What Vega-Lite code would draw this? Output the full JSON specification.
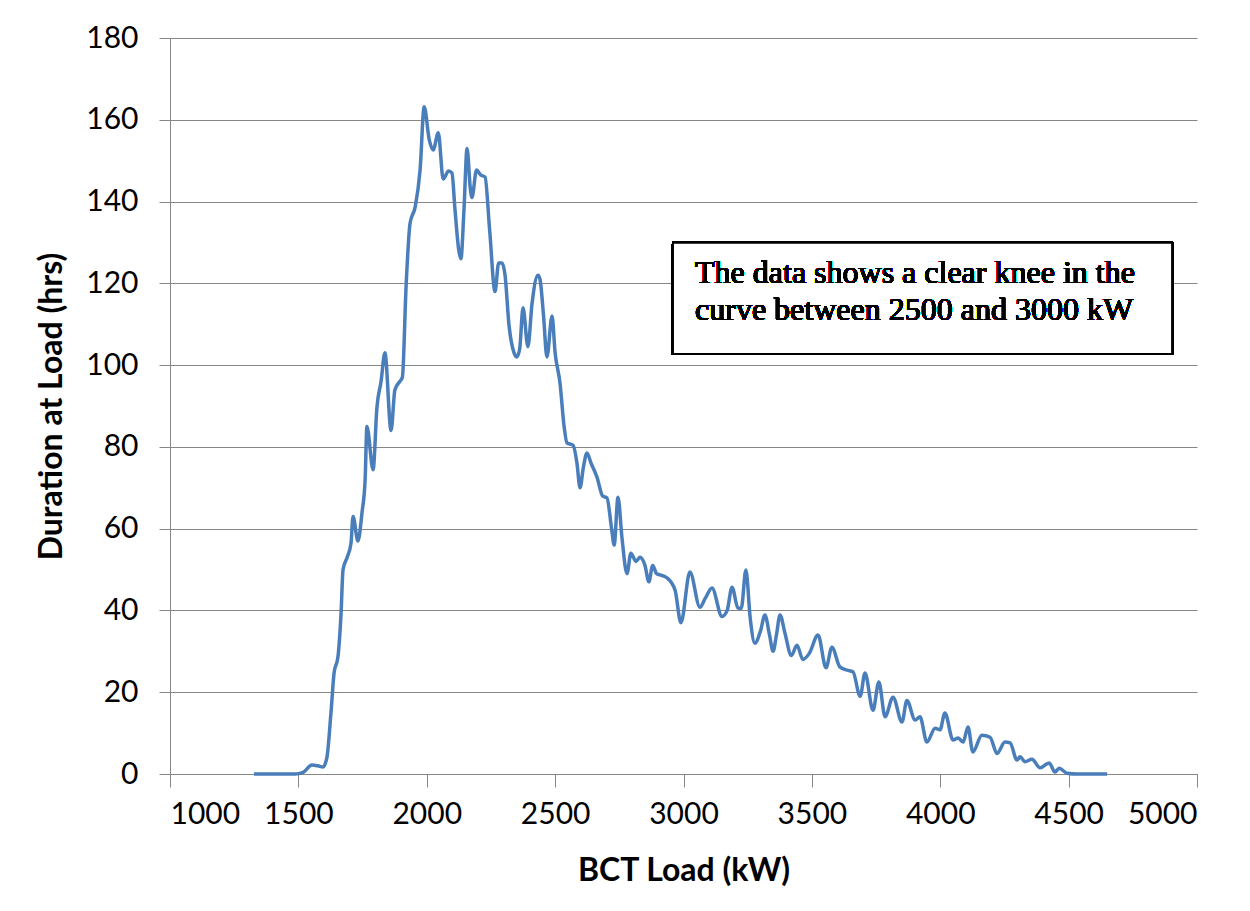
{
  "$schema": "https://vega.github.io/schema/vega-lite/v6.json",
  "width": 1027,
  "height": 736,
  "autosize": {"type": "none"},
  "padding": {"left": 170, "top": 38, "right": 53, "bottom": 137},
  "background": "white",
  "config": {
    "view": {"stroke": null},
    "font": "Lato"
  },
  "data": {
    "values": [
      {"load": 1327, "hours": 0}, {"load": 1487, "hours": 0}, {"load": 1518, "hours": 0.4},
      {"load": 1553, "hours": 2.2}, {"load": 1576, "hours": 2}, {"load": 1596, "hours": 1.7},
      {"load": 1611, "hours": 4}, {"load": 1627, "hours": 15}, {"load": 1639, "hours": 24.7},
      {"load": 1654, "hours": 28.6}, {"load": 1666, "hours": 39}, {"load": 1674, "hours": 50},
      {"load": 1690, "hours": 53}, {"load": 1705, "hours": 56.5}, {"load": 1713, "hours": 63},
      {"load": 1732, "hours": 57}, {"load": 1748, "hours": 64}, {"load": 1760, "hours": 72},
      {"load": 1767, "hours": 85}, {"load": 1791, "hours": 74.4}, {"load": 1806, "hours": 89.7},
      {"load": 1822, "hours": 96}, {"load": 1837, "hours": 103}, {"load": 1861, "hours": 84},
      {"load": 1876, "hours": 94}, {"load": 1895, "hours": 96}, {"load": 1905, "hours": 97},
      {"load": 1920, "hours": 120}, {"load": 1935, "hours": 134.7}, {"load": 1955, "hours": 138.7},
      {"load": 1974, "hours": 147.7}, {"load": 1990, "hours": 163.2}, {"load": 2010, "hours": 155},
      {"load": 2025, "hours": 152.6}, {"load": 2045, "hours": 156.8}, {"load": 2064, "hours": 145.5},
      {"load": 2085, "hours": 147.5}, {"load": 2098, "hours": 147}, {"load": 2110, "hours": 138},
      {"load": 2125, "hours": 128}, {"load": 2133, "hours": 126}, {"load": 2145, "hours": 138},
      {"load": 2157, "hours": 153}, {"load": 2170, "hours": 143}, {"load": 2176, "hours": 141},
      {"load": 2194, "hours": 147.7}, {"load": 2210, "hours": 146.5}, {"load": 2227, "hours": 146},
      {"load": 2245, "hours": 133}, {"load": 2266, "hours": 118}, {"load": 2280, "hours": 125},
      {"load": 2293, "hours": 125}, {"load": 2305, "hours": 122}, {"load": 2320, "hours": 110},
      {"load": 2340, "hours": 103}, {"load": 2351, "hours": 102}, {"load": 2362, "hours": 104},
      {"load": 2375, "hours": 114}, {"load": 2394, "hours": 104.5}, {"load": 2410, "hours": 115},
      {"load": 2433, "hours": 122}, {"load": 2441, "hours": 121}, {"load": 2455, "hours": 112},
      {"load": 2468, "hours": 102}, {"load": 2488, "hours": 112}, {"load": 2500, "hours": 103},
      {"load": 2519, "hours": 95.6}, {"load": 2535, "hours": 85}, {"load": 2546, "hours": 81},
      {"load": 2570, "hours": 80.4}, {"load": 2585, "hours": 76}, {"load": 2597, "hours": 70},
      {"load": 2610, "hours": 75}, {"load": 2624, "hours": 78.5}, {"load": 2640, "hours": 76},
      {"load": 2663, "hours": 72.6}, {"load": 2685, "hours": 68}, {"load": 2702, "hours": 67.5},
      {"load": 2720, "hours": 60}, {"load": 2730, "hours": 56}, {"load": 2745, "hours": 67.7},
      {"load": 2760, "hours": 58}, {"load": 2780, "hours": 49}, {"load": 2795, "hours": 54},
      {"load": 2815, "hours": 52}, {"load": 2830, "hours": 53}, {"load": 2850, "hours": 51},
      {"load": 2865, "hours": 47}, {"load": 2880, "hours": 51}, {"load": 2895, "hours": 49},
      {"load": 2908, "hours": 48.7}, {"load": 2935, "hours": 48}, {"load": 2967, "hours": 45},
      {"load": 2990, "hours": 37}, {"load": 3025, "hours": 49.4}, {"load": 3064, "hours": 40.8},
      {"load": 3085, "hours": 43}, {"load": 3111, "hours": 45.5}, {"load": 3150, "hours": 38.5},
      {"load": 3170, "hours": 40}, {"load": 3189, "hours": 45.7}, {"load": 3212, "hours": 40.6},
      {"load": 3225, "hours": 40.5}, {"load": 3243, "hours": 49.9}, {"load": 3260, "hours": 38},
      {"load": 3278, "hours": 32}, {"load": 3300, "hours": 35}, {"load": 3317, "hours": 38.9},
      {"load": 3335, "hours": 34}, {"load": 3349, "hours": 30}, {"load": 3362, "hours": 34},
      {"load": 3376, "hours": 38.9}, {"load": 3395, "hours": 34.5}, {"load": 3420, "hours": 29},
      {"load": 3442, "hours": 31.5}, {"load": 3465, "hours": 28}, {"load": 3490, "hours": 29.5},
      {"load": 3524, "hours": 34}, {"load": 3555, "hours": 26}, {"load": 3578, "hours": 31},
      {"load": 3609, "hours": 26.2}, {"load": 3637, "hours": 25.4}, {"load": 3660, "hours": 25},
      {"load": 3688, "hours": 19}, {"load": 3707, "hours": 24.7}, {"load": 3738, "hours": 15.6},
      {"load": 3761, "hours": 22.5}, {"load": 3785, "hours": 14}, {"load": 3816, "hours": 18.8},
      {"load": 3851, "hours": 12.7}, {"load": 3870, "hours": 18}, {"load": 3902, "hours": 13.2},
      {"load": 3921, "hours": 14}, {"load": 3948, "hours": 7.8}, {"load": 3980, "hours": 11.2},
      {"load": 3999, "hours": 10.8}, {"load": 4018, "hours": 14.9}, {"load": 4050, "hours": 8.3},
      {"load": 4070, "hours": 8.8}, {"load": 4089, "hours": 7.8}, {"load": 4108, "hours": 11.5},
      {"load": 4127, "hours": 5.4}, {"load": 4162, "hours": 9.5}, {"load": 4194, "hours": 9},
      {"load": 4221, "hours": 5}, {"load": 4252, "hours": 7.8}, {"load": 4272, "hours": 7.6},
      {"load": 4299, "hours": 3.4}, {"load": 4311, "hours": 4.2}, {"load": 4330, "hours": 3},
      {"load": 4357, "hours": 3.6}, {"load": 4389, "hours": 1.5}, {"load": 4424, "hours": 2.7},
      {"load": 4447, "hours": 0.5}, {"load": 4463, "hours": 1.4}, {"load": 4494, "hours": 0.2},
      {"load": 4533, "hours": 0}, {"load": 4650, "hours": 0}
    ]
  },
  "layer": [
    {
      "mark": {"type": "line", "color": "#4a7ebb", "strokeWidth": 3.5, "interpolate": "monotone"},
      "encoding": {
        "x": {
          "field": "load", "type": "quantitative",
          "scale": {"domain": [1000, 5000], "nice": false},
          "axis": {
            "title": "BCT Load (kW)", "values": [1000, 1500, 2000, 2500, 3000, 3500, 4000, 4500, 5000],
            "format": "d", "grid": false,
            "domainColor": "#868686", "tickColor": "#868686", "tickSize": 13,
            "labelFontSize": 30, "labelColor": "#000000", "labelPadding": 12, "labelFont": "Lato",
            "titleFontSize": 32, "titleFontWeight": "bold", "titleColor": "#000000", "titlePadding": 26, "titleFont": "Lato"
          }
        },
        "y": {
          "field": "hours", "type": "quantitative",
          "scale": {"domain": [0, 180], "nice": false},
          "axis": {
            "title": "Duration at Load (hrs)", "values": [0, 20, 40, 60, 80, 100, 120, 140, 160, 180],
            "grid": true, "gridColor": "#868686", "gridWidth": 1,
            "domainColor": "#868686", "tickColor": "#868686", "tickSize": 11,
            "labelFontSize": 30, "labelColor": "#000000", "labelPadding": 21, "labelFont": "Lato",
            "titleFontSize": 32, "titleFontWeight": "bold", "titleColor": "#000000", "titlePadding": 17, "titleFont": "Lato"
          }
        }
      }
    },
    {
      "mark": {"type": "rect", "fill": "white", "stroke": "black", "strokeWidth": 2},
      "encoding": {
        "x": {"datum": 2959, "type": "quantitative"},
        "x2": {"datum": 4903},
        "y": {"datum": 129.9, "type": "quantitative"},
        "y2": {"datum": 102.7}
      }
    },
    {
      "mark": {"type": "text", "align": "left", "baseline": "alphabetic", "font": "Liberation Serif", "fontSize": 32, "lineHeight": 37, "color": "black"},
      "encoding": {
        "x": {"datum": 3045, "type": "quantitative"},
        "y": {"datum": 120.1, "type": "quantitative"},
        "text": {"value": ["The data shows a clear knee in the", "curve between 2500 and 3000 kW"]}
      }
    }
  ]
}
